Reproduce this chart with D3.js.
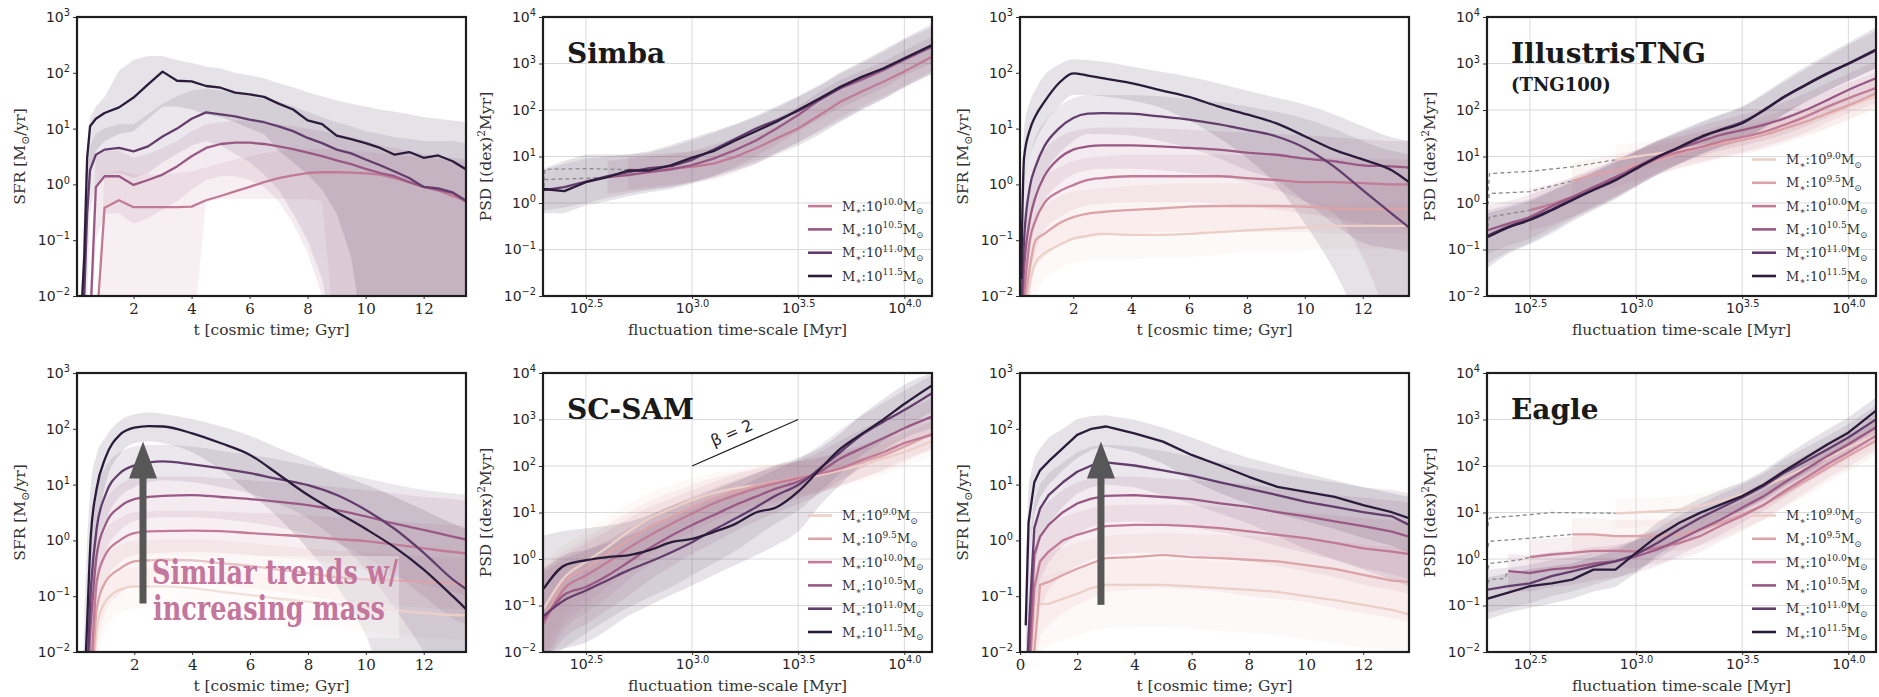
<!DOCTYPE html>
<html>
<head>
<meta charset="utf-8">
<title>SFR histories and PSDs by stellar mass</title>
<script src="https://cdn.jsdelivr.net/npm/d3@7"></script>
<style>
  body { margin: 0; background: #fff; }
</style>
</head>
<body>
<svg id="fig" width="1879" height="697"></svg>
<script>
// ---------------- data ----------------
var N = null;
var massLabels = ["9.0", "9.5", "10.0", "10.5", "11.0", "11.5"];
var massColors = ["#eccfc7", "#dca3a8", "#c27b96", "#9a5984", "#633d6c", "#2b1c3b"];

// cosmic time grids [Gyr]
var tSimba = [0.2, 0.3, 0.4, 0.5, 0.7, 1, 1.5, 2, 2.5, 3, 3.5, 4, 4.5, 5, 5.5, 6, 6.5, 7, 7.5, 8, 8.5, 9, 9.5, 10, 10.5, 11, 11.5, 12, 12.5, 13, 13.5];
var tStd = [0.2, 0.3, 0.5, 0.7, 1, 1.5, 2, 2.5, 3, 4, 5, 6, 7, 8, 9, 10, 11, 12, 13, 13.6];
// fluctuation time-scale grid [Myr]
var tauGrid = [200, 250, 316, 400, 500, 630, 800, 1000, 1260, 1600, 2000, 2500, 3160, 4000, 5000, 6300, 8000, 10000, 13500];

// Simba SFR (bins 10.0, 10.5, 11.0, 11.5)
var simbaMed = [
  [0.001, 0.001, 0.001, 0.001, 0.002, 0.38, 0.52, 0.39, 0.39, 0.39, 0.39, 0.4, 0.52, 0.62, 0.75, 0.9, 1.1, 1.3, 1.45, 1.6, 1.65, 1.65, 1.62, 1.58, 1.5, 1.3, 1.1, 0.9, 0.78, 0.62, 0.5],
  [0.001, 0.001, 0.001, 0.003, 0.9, 1.4, 1.4, 0.98, 1.2, 1.5, 2.1, 3.2, 4.5, 5.3, 5.6, 5.6, 5.3, 4.8, 4.3, 3.7, 3.2, 2.7, 2.3, 1.9, 1.6, 1.4, 1.1, 0.9, 0.8, 0.7, 0.47],
  [0.001, 0.01, 0.3, 1.8, 3.4, 4.2, 4.5, 3.9, 4.8, 7.2, 10, 15, 19.5, 18, 16.5, 14.5, 13, 11, 9, 6.8, 5.5, 4.2, 3.6, 2.8, 2.2, 1.7, 1.3, 0.9, 0.85, 0.72, 0.5],
  [0.005, 0.05, 3, 11, 15, 19, 24, 36, 62, 105, 72, 70, 58, 54, 44, 41, 37, 28, 22, 14, 12, 7.5, 6.5, 5.5, 4.5, 3.4, 3.8, 3.0, 3.3, 2.6, 1.8]
];
var simbaLo = [
  [0.001, 0.001, 0.001, 0.001, 0.001, 0.001, 0.001, 0.001, 0.001, 0.001, 0.001, 0.001, 0.5, 0.55, 0.55, 0.55, 0.55, 0.55, 0.55, 0.55, 0.5, 0.001, 0.001, 0.001, 0.001, 0.001, 0.001, 0.001, 0.001, 0.001, 0.001],
  [0.001, 0.001, 0.001, 0.001, 0.1, 0.3, 0.3, 0.2, 0.25, 0.35, 0.5, 0.8, 1.2, 1.4, 1.4, 1.2, 0.9, 0.5, 0.2, 0.06, 0.01, 0.001, 0.001, 0.001, 0.001, 0.001, 0.001, 0.001, 0.001, 0.001, 0.001],
  [0.001, 0.001, 0.01, 0.3, 1, 1.5, 1.6, 1.3, 1.6, 2.5, 3.5, 5, 6, 5, 3.5, 2.5, 1.5, 0.8, 0.3, 0.1, 0.02, 0.001, 0.001, 0.001, 0.001, 0.001, 0.001, 0.001, 0.001, 0.001, 0.001],
  [0.001, 0.005, 0.5, 2, 4, 6, 8, 9, 15, 25, 25, 22, 18, 16, 13, 10, 8, 4, 2.5, 1.5, 0.8, 0.3, 0.05, 0.001, 0.001, 0.001, 0.001, 0.001, 0.001, 0.001, 0.001]
];
var simbaHi = [
  [0.001, 0.001, 0.001, 0.001, 0.002, 1.5, 1.8, 1.5, 1.5, 1.5, 1.6, 1.7, 2, 2.4, 2.8, 3.2, 3.6, 4, 4.2, 4.3, 4.3, 4.2, 4, 3.8, 3.6, 3.4, 3.2, 3, 2.8, 2.6, 2.5],
  [0.001, 0.001, 0.001, 0.01, 3, 4, 4, 3, 3.5, 4.5, 6, 9, 12, 13, 14, 14, 13, 12, 11, 10, 9, 8, 7, 6, 5, 4.5, 4, 3.5, 3.2, 3, 2.8],
  [0.002, 0.05, 1, 5, 8, 10, 12, 12, 18, 28, 38, 48, 52, 48, 42, 38, 34, 30, 25, 20, 16, 13, 11, 9, 8, 7, 6.5, 6, 6, 6, 5.5],
  [0.01, 0.5, 5, 16, 25, 37, 110, 170, 200, 200, 170, 150, 130, 120, 100, 90, 80, 65, 55, 45, 38, 32, 28, 25, 22, 20, 18, 16, 15, 14, 13]
];

// IllustrisTNG SFR (bins 9.0 ... 11.5)
var tngMed = [
  [0.001, 0.002, 0.017, 0.04, 0.058, 0.081, 0.107, 0.12, 0.13, 0.125, 0.125, 0.13, 0.14, 0.15, 0.16, 0.17, 0.18, 0.18, 0.18, 0.18],
  [0.001, 0.005, 0.033, 0.1, 0.13, 0.2, 0.26, 0.3, 0.32, 0.35, 0.37, 0.4, 0.41, 0.41, 0.41, 0.4, 0.37, 0.36, 0.36, 0.36],
  [0.002, 0.01, 0.1, 0.23, 0.46, 0.74, 0.97, 1.2, 1.3, 1.4, 1.4, 1.4, 1.4, 1.3, 1.2, 1.1, 1.1, 1.05, 1.0, 1.0],
  [0.003, 0.03, 0.23, 0.6, 1.4, 2.9, 4.2, 4.8, 5.0, 5.0, 4.8, 4.5, 4.2, 3.7, 3.4, 2.9, 2.6, 2.2, 2.1, 2.0],
  [0.005, 0.1, 0.9, 2.1, 4.8, 10, 15.5, 18.5, 19, 18.5, 16.5, 14.5, 12, 9.5, 7.3, 4.5, 2.1, 0.79, 0.3, 0.17],
  [0.02, 3, 9.5, 17, 30, 65, 98, 89, 80, 65, 49, 37, 25, 18, 12.5, 7.3, 4.2, 2.8, 1.8, 1.1]
];
var tngLo = [
  [0.001, 0.001, 0.005, 0.01, 0.02, 0.03, 0.04, 0.043, 0.045, 0.045, 0.05, 0.05, 0.055, 0.06, 0.06, 0.065, 0.07, 0.07, 0.07, 0.07],
  [0.001, 0.001, 0.01, 0.03, 0.05, 0.08, 0.1, 0.11, 0.12, 0.13, 0.14, 0.14, 0.14, 0.14, 0.14, 0.14, 0.13, 0.13, 0.13, 0.13],
  [0.001, 0.003, 0.02, 0.06, 0.15, 0.25, 0.35, 0.42, 0.45, 0.48, 0.48, 0.48, 0.45, 0.4, 0.35, 0.3, 0.25, 0.2, 0.18, 0.15],
  [0.001, 0.005, 0.06, 0.2, 0.5, 1.0, 1.5, 1.8, 1.9, 1.9, 1.8, 1.6, 1.4, 1.1, 0.8, 0.5, 0.3, 0.05, 0.003, 0.001],
  [0.001, 0.02, 0.2, 0.6, 1.5, 3.5, 6, 8, 8, 7.5, 6, 4.5, 3, 1.8, 1.2, 0.5, 0.2, 0.09, 0.07, 0.06],
  [0.002, 0.5, 3, 6, 12, 25, 40, 40, 38, 32, 24, 14, 7, 3, 1, 0.2, 0.03, 0.003, 0.001, 0.001]
];
var tngHi = [
  [0.001, 0.01, 0.05, 0.1, 0.15, 0.22, 0.28, 0.31, 0.33, 0.35, 0.36, 0.38, 0.4, 0.42, 0.44, 0.45, 0.46, 0.46, 0.46, 0.46],
  [0.002, 0.02, 0.1, 0.3, 0.4, 0.6, 0.75, 0.8, 0.85, 0.95, 1.0, 1.05, 1.05, 1.05, 1.05, 1.05, 1.0, 1.0, 1.0, 1.0],
  [0.005, 0.05, 0.35, 0.7, 1.3, 2, 2.6, 3, 3.2, 3.4, 3.4, 3.4, 3.4, 3.3, 3.2, 3.1, 3.0, 2.9, 2.8, 2.8],
  [0.01, 0.15, 1, 2, 4, 7, 9, 10, 10.5, 10.5, 10, 9.5, 9, 8.5, 8, 7.5, 7, 6.5, 6, 6],
  [0.02, 0.5, 3, 7, 13, 25, 35, 40, 40, 40, 38, 34, 30, 25, 20, 15, 10, 6, 4, 3.5],
  [0.1, 10, 30, 50, 90, 140, 175, 170, 160, 130, 105, 85, 65, 48, 36, 27, 18, 11, 7, 6]
];

// SC-SAM SFR (bins 9.0 ... 11.5)
var samMed = [
  [0.001, 0.001, 0.001, 0.026, 0.08, 0.13, 0.15, 0.15, 0.15, 0.14, 0.12, 0.105, 0.09, 0.08, 0.072, 0.066, 0.056, 0.05, 0.046, 0.045],
  [0.001, 0.001, 0.002, 0.06, 0.18, 0.31, 0.42, 0.44, 0.45, 0.44, 0.39, 0.35, 0.3, 0.26, 0.22, 0.2, 0.19, 0.18, 0.17, 0.16],
  [0.001, 0.001, 0.005, 0.18, 0.55, 1.0, 1.35, 1.45, 1.47, 1.5, 1.47, 1.35, 1.26, 1.17, 1.05, 0.97, 0.84, 0.72, 0.62, 0.58],
  [0.001, 0.001, 0.034, 0.55, 1.9, 4.0, 5.5, 6.0, 6.3, 6.5, 6.0, 5.5, 4.9, 4.3, 3.5, 2.7, 2.0, 1.54, 1.17, 1.0],
  [0.001, 0.001, 0.14, 1.66, 6.5, 16, 22, 25, 26, 23, 19.6, 16, 12.5, 9.8, 6.5, 3.5, 1.6, 0.6, 0.2, 0.12],
  [0.001, 0.005, 1.26, 8.5, 30, 78, 105, 112, 110, 83, 55, 34, 15, 6.5, 3.2, 1.6, 0.75, 0.3, 0.1, 0.05]
];
var samLo = [
  [0.001, 0.001, 0.001, 0.005, 0.025, 0.05, 0.06, 0.063, 0.065, 0.06, 0.05, 0.04, 0.035, 0.03, 0.027, 0.024, 0.02, 0.018, 0.017, 0.016],
  [0.001, 0.001, 0.001, 0.01, 0.05, 0.11, 0.16, 0.17, 0.18, 0.18, 0.16, 0.14, 0.12, 0.1, 0.085, 0.075, 0.068, 0.062, 0.058, 0.055],
  [0.001, 0.001, 0.001, 0.04, 0.18, 0.4, 0.55, 0.58, 0.6, 0.62, 0.6, 0.55, 0.5, 0.45, 0.38, 0.3, 0.22, 0.16, 0.12, 0.1],
  [0.001, 0.001, 0.002, 0.1, 0.6, 1.5, 2.2, 2.5, 2.6, 2.6, 2.4, 2.1, 1.7, 1.3, 0.9, 0.5, 0.25, 0.1, 0.04, 0.03],
  [0.001, 0.001, 0.01, 0.3, 2, 6, 9, 11, 12, 11, 9, 7, 4.5, 2.5, 1.0, 0.3, 0.06, 0.01, 0.001, 0.001],
  [0.001, 0.001, 0.05, 1, 10, 35, 55, 60, 55, 38, 18, 7, 2.5, 0.7, 0.15, 0.02, 0.001, 0.001, 0.001, 0.001]
];
var samHi = [
  [0.001, 0.001, 0.005, 0.07, 0.18, 0.28, 0.33, 0.34, 0.34, 0.33, 0.3, 0.27, 0.24, 0.22, 0.2, 0.18, 0.17, 0.16, 0.15, 0.15],
  [0.001, 0.001, 0.02, 0.2, 0.5, 0.8, 1.0, 1.03, 1.05, 1.05, 1.0, 0.9, 0.8, 0.72, 0.65, 0.6, 0.56, 0.52, 0.5, 0.5],
  [0.001, 0.002, 0.05, 0.6, 1.5, 2.5, 3.2, 3.3, 3.4, 3.4, 3.3, 3.1, 3.0, 2.8, 2.6, 2.4, 2.2, 2.0, 1.9, 1.8],
  [0.001, 0.005, 0.2, 2, 5, 10, 13, 13.5, 14, 14, 13, 12, 11, 10, 9, 8, 7, 6, 5.5, 5],
  [0.001, 0.01, 1, 8, 20, 38, 48, 52, 52, 48, 40, 34, 28, 22, 17, 13, 10, 8, 7, 6.5],
  [0.001, 0.1, 10, 35, 70, 140, 180, 195, 185, 150, 110, 75, 45, 28, 16, 10, 6, 3.5, 2, 1.5]
];

// Eagle SFR (bins 9.0 ... 11.5)
var eagleMed = [
  [0.001, 0.001, 0.07, 0.072, 0.073, 0.09, 0.11, 0.14, 0.16, 0.16, 0.16, 0.15, 0.14, 0.13, 0.12, 0.1, 0.085, 0.07, 0.057, 0.047],
  [0.001, 0.001, 0.01, 0.16, 0.18, 0.24, 0.31, 0.39, 0.48, 0.5, 0.55, 0.5, 0.48, 0.45, 0.42, 0.36, 0.31, 0.24, 0.19, 0.18],
  [0.001, 0.002, 0.14, 0.42, 0.63, 1.0, 1.26, 1.5, 1.8, 1.9, 1.9, 1.8, 1.66, 1.45, 1.26, 1.1, 0.9, 0.72, 0.63, 0.57],
  [0.001, 0.005, 0.55, 1.17, 1.9, 3.2, 4.6, 5.6, 6.3, 6.5, 6.0, 5.5, 4.6, 4.0, 3.2, 2.7, 2.2, 1.8, 1.44, 1.17],
  [0.001, 0.02, 1.66, 3.7, 6.5, 11, 17, 22, 25, 22, 18, 14.5, 11, 8.5, 6.5, 4.9, 4.0, 3.2, 2.7, 1.9],
  [0.03, 2.1, 11, 18, 26, 45, 78, 100, 110, 83, 59, 34, 22, 13.8, 9.1, 7.4, 6.0, 4.3, 3.2, 2.5]
];
var eagleLo = [
  [0.001, 0.001, 0.005, 0.01, 0.013, 0.016, 0.02, 0.024, 0.027, 0.028, 0.028, 0.026, 0.024, 0.022, 0.02, 0.017, 0.014, 0.012, 0.01, 0.009],
  [0.001, 0.001, 0.002, 0.02, 0.03, 0.05, 0.07, 0.09, 0.12, 0.13, 0.14, 0.13, 0.12, 0.1, 0.09, 0.08, 0.06, 0.05, 0.04, 0.035],
  [0.001, 0.001, 0.01, 0.06, 0.13, 0.25, 0.35, 0.45, 0.55, 0.6, 0.6, 0.55, 0.5, 0.42, 0.35, 0.28, 0.22, 0.16, 0.13, 0.11],
  [0.001, 0.001, 0.05, 0.2, 0.4, 0.8, 1.3, 1.8, 2.1, 2.2, 2.0, 1.7, 1.4, 1.1, 0.8, 0.6, 0.45, 0.32, 0.25, 0.2],
  [0.001, 0.002, 0.3, 1, 2, 4, 7, 9, 10, 9, 6.5, 4.5, 3, 2, 1.2, 0.7, 0.45, 0.3, 0.2, 0.15],
  [0.001, 0.5, 3, 6, 10, 18, 30, 42, 48, 38, 24, 12, 7, 4.5, 3, 2.2, 1.6, 1.1, 0.8, 0.6]
];
var eagleHi = [
  [0.001, 0.002, 0.2, 0.22, 0.24, 0.28, 0.33, 0.4, 0.45, 0.46, 0.46, 0.45, 0.42, 0.4, 0.37, 0.33, 0.3, 0.26, 0.22, 0.2],
  [0.001, 0.005, 0.3, 0.5, 0.6, 0.75, 0.9, 1.05, 1.2, 1.3, 1.35, 1.3, 1.25, 1.2, 1.15, 1.05, 0.95, 0.85, 0.75, 0.7],
  [0.001, 0.02, 0.6, 1.2, 1.8, 2.6, 3.2, 3.8, 4.2, 4.4, 4.4, 4.2, 4.0, 3.7, 3.4, 3.1, 2.8, 2.5, 2.3, 2.2],
  [0.002, 0.1, 2, 3.5, 5, 8, 11, 13, 14, 14, 13, 12, 11, 10, 8.5, 7.5, 6.5, 5.8, 5.2, 4.8],
  [0.005, 0.5, 5, 10, 16, 25, 38, 48, 52, 48, 40, 32, 25, 20, 16, 13, 11, 9, 8, 7],
  [0.5, 10, 30, 45, 70, 100, 150, 170, 175, 145, 105, 70, 45, 30, 22, 16, 12, 9, 7, 6]
];

// Simba PSD (bins 10.0, 10.5, 11.0, 11.5)
var simbaPsd = [
  [N, N, N, N, 5.2, 5.0, 5.5, 6.0, 7.0, 9.8, 15, 24.5, 40, 78, 150, 250, 410, 670, 1400],
  [N, N, N, 3.6, 4.0, 4.6, 5.3, 6.5, 9.0, 13.8, 22, 40, 78, 165, 295, 450, 730, 1200, 2300],
  [1.9, 2.2, 2.9, 3.8, 4.6, 5.6, 6.2, 8.5, 14, 24, 40, 60, 95, 170, 300, 500, 780, 1250, 2400],
  [2.0, 1.8, 2.8, 3.6, 5.0, 5.0, 6.5, 9.5, 13, 22, 35, 56, 100, 178, 316, 520, 790, 1300, 2500]
];
var simbaPsdLo = [
  [N, N, N, N, 2.0, 2.2, 2.5, 2.8, 3.2, 4.5, 7, 12, 20, 38, 70, 120, 200, 330, 700],
  [N, N, N, 1.6, 1.8, 2.0, 2.3, 2.8, 3.8, 6, 10, 18, 35, 65, 110, 180, 300, 550, 1000],
  [0.7, 0.8, 1.0, 1.3, 1.6, 1.9, 2.2, 2.8, 3.8, 5.5, 8, 12, 20, 35, 60, 105, 180, 320, 620],
  [0.6, 0.6, 0.9, 1.1, 1.4, 1.7, 2.0, 2.6, 3.5, 5, 7, 11, 17, 30, 55, 100, 170, 300, 600]
];
var simbaPsdHi = [
  [N, N, N, N, 10, 11, 12, 13, 15, 20, 28, 45, 75, 140, 270, 450, 700, 1100, 2300],
  [N, N, N, 8, 9, 10, 11, 13, 18, 25, 38, 65, 120, 250, 450, 700, 1100, 1900, 3800],
  [5, 7, 9, 10, 11, 12, 16, 22, 32, 48, 70, 110, 190, 330, 600, 1000, 1800, 3200, 6000],
  [5.5, 8, 11, 11, 11, 13, 18, 25, 35, 50, 75, 120, 200, 350, 650, 1100, 2000, 3500, 7000]
];
var simbaDashTau = [[200, 203, 320, 500], [200, 203, 320, 400], N, N];
var simbaDashVal = [[3.0, 5.3, 5.5, 5.2], [2.2, 3.2, 3.4, 3.6], N, N];

// IllustrisTNG PSD (bins 9.0 ... 11.5)
var tngPsd = [
  [N, N, N, N, N, N, 8.5, 10, 11.5, 13.8, 16.6, 20, 24.5, 31.6, 40, 56, 78, 118, 195],
  [N, N, N, N, 3.0, 4.0, 5.0, 6.5, 8.3, 11.5, 15, 18.5, 22.5, 29, 40, 56, 85, 126, 230],
  [N, N, 0.7, 0.95, 1.35, 2.0, 3.6, 5.5, 9, 12.6, 16, 21, 26, 34, 48, 72, 118, 178, 295],
  [0.26, 0.36, 0.5, 0.85, 1.35, 2.2, 3.6, 6.0, 10, 15, 21, 29, 37, 48, 66, 100, 165, 270, 480],
  [0.2, 0.31, 0.45, 0.72, 1.2, 1.95, 3.2, 5.4, 9.5, 15.5, 25, 38, 55, 98, 190, 340, 600, 980, 1900],
  [0.185, 0.3, 0.43, 0.7, 1.15, 1.9, 3.1, 5.5, 9.8, 16, 26, 37, 52, 100, 195, 350, 620, 1000, 2000]
];
var tngPsdLo = [
  [N, N, N, N, N, N, 4, 5, 5.8, 7, 8.5, 10.5, 13, 17, 22, 30, 42, 65, 110],
  [N, N, N, N, 1.3, 1.8, 2.2, 3, 4, 5.5, 7, 9, 11, 14, 19, 27, 40, 60, 110],
  [N, N, 0.25, 0.35, 0.5, 0.8, 1.4, 2.3, 4, 5.8, 7.5, 9.5, 12, 16, 22, 33, 55, 85, 140],
  [0.08, 0.12, 0.17, 0.3, 0.5, 0.85, 1.4, 2.5, 4.5, 7, 10, 13.5, 17, 22, 30, 45, 70, 110, 200],
  [0.05, 0.09, 0.14, 0.25, 0.45, 0.75, 1.3, 2.3, 4.2, 7, 11, 16, 23, 42, 82, 150, 260, 420, 780],
  [0.04, 0.08, 0.13, 0.22, 0.4, 0.7, 1.2, 2.2, 4, 7, 11, 16, 22, 40, 80, 150, 260, 420, 800]
];
var tngPsdHi = [
  [N, N, N, N, N, N, 18, 20, 23, 27, 32, 38, 45, 55, 70, 95, 135, 200, 330],
  [N, N, N, N, 7, 9, 11, 14, 17, 22, 28, 34, 42, 55, 75, 105, 160, 240, 430],
  [N, N, 2.0, 2.6, 3.6, 5, 8.5, 13, 20, 27, 35, 45, 56, 72, 100, 150, 250, 380, 650],
  [0.9, 1.1, 1.5, 2.3, 3.5, 5.5, 8.5, 14, 22, 32, 45, 60, 80, 105, 150, 230, 380, 600, 1100],
  [0.7, 0.9, 1.2, 1.9, 3, 4.8, 8, 13, 21, 34, 52, 78, 115, 210, 400, 750, 1400, 2500, 5000],
  [0.6, 0.8, 1.1, 1.8, 2.8, 4.5, 7.5, 13, 22, 36, 55, 80, 120, 230, 450, 850, 1600, 2800, 6000]
];
var tngDashTau = [[200, 204, 316, 500, 800], [200, 204, 316, 500], [200, 204, 316], N, N, N];
var tngDashVal = [[1.3, 4.3, 4.8, 6.0, 8.5], [0.9, 1.6, 1.75, 3.0], [0.3, 0.5, 0.7], N, N, N];

// SC-SAM PSD (bins 9.0 ... 11.5)
var samPsd = [
  [0.085, 0.4, 0.87, 1.8, 3.8, 7.4, 12, 18.5, 26, 33, 39, 46, 54, 64, 81, 105, 145, 200, 340],
  [0.05, 0.32, 0.62, 1.3, 2.5, 4.9, 8.0, 13, 20, 28, 38, 46, 56, 69, 89, 124, 172, 260, 500],
  [0.04, 0.23, 0.44, 0.85, 1.7, 3.2, 5.7, 9.5, 15.6, 23.5, 33, 43, 54, 69, 89, 135, 200, 310, 470],
  [0.05, 0.17, 0.25, 0.44, 0.85, 1.7, 3.2, 5.4, 8.7, 14.5, 22, 33, 46, 75, 145, 240, 400, 650, 1150],
  [0.06, 0.13, 0.21, 0.35, 0.57, 0.87, 1.4, 2.3, 4.2, 7.4, 13, 23.5, 39, 89, 200, 470, 910, 1600, 3700],
  [0.23, 0.72, 0.94, 1.1, 1.2, 1.55, 2.3, 2.7, 3.8, 5.7, 10, 13, 28, 85, 235, 490, 1020, 2150, 5400]
];
var samPsdLo = [
  [0.008, 0.06, 0.16, 0.4, 0.9, 2, 3.5, 6, 9, 12, 15, 18, 22, 27, 35, 47, 65, 95, 170],
  [0.006, 0.04, 0.1, 0.25, 0.55, 1.2, 2.2, 3.8, 6.5, 10, 14, 18, 23, 29, 38, 54, 78, 120, 250],
  [0.005, 0.03, 0.07, 0.15, 0.35, 0.75, 1.4, 2.6, 4.5, 7.5, 11, 15, 20, 27, 37, 55, 85, 140, 220],
  [0.005, 0.02, 0.04, 0.08, 0.16, 0.35, 0.7, 1.3, 2.2, 4, 6.5, 10, 15, 25, 50, 90, 150, 250, 450],
  [0.005, 0.012, 0.025, 0.05, 0.09, 0.15, 0.25, 0.45, 0.8, 1.5, 3, 6, 11, 28, 70, 170, 350, 650, 1500],
  [0.01, 0.012, 0.016, 0.03, 0.06, 0.1, 0.17, 0.27, 0.45, 0.74, 1.2, 2.0, 3.9, 14, 40, 105, 220, 400, 650]
];
var samPsdHi = [
  [0.9, 2, 4, 8, 15, 27, 40, 55, 70, 85, 100, 115, 130, 150, 180, 230, 310, 420, 700],
  [0.7, 1.5, 2.8, 5.5, 10, 18, 28, 40, 55, 72, 90, 105, 125, 150, 190, 260, 360, 520, 900],
  [0.6, 1.2, 2.2, 4, 7.5, 13, 20, 30, 45, 65, 85, 105, 125, 155, 200, 290, 420, 620, 950],
  [0.5, 1, 1.5, 2.5, 4.5, 8, 14, 22, 33, 50, 70, 95, 130, 200, 350, 600, 1000, 1600, 2800],
  [0.6, 1.2, 1.6, 2.2, 3.2, 4.8, 7.5, 12, 20, 32, 52, 85, 140, 280, 600, 1200, 2300, 4200, 9000],
  [3.2, 4, 4.6, 5.2, 6.3, 9, 14, 20, 30, 46, 70, 105, 150, 240, 500, 1260, 2800, 5600, 10000]
];
// beta = 2 reference slope
var betaTau = [1000, 3162];
var betaVal = [100, 1000];

// Eagle PSD (bins 9.0 ... 11.5)
var eaglePsd = [
  [N, N, N, N, N, N, 9.6, 10, 10.7, 11.5, 13.8, 17.5, 24.5, 37, 56, 92, 150, 250, 480],
  [N, N, N, N, 3.4, 3.4, 3.1, 3.1, 3.2, 3.4, 4.3, 6.0, 9.1, 14.6, 26, 48, 92, 165, 350],
  [N, N, 1.1, 1.25, 1.35, 1.5, 1.5, 1.45, 1.75, 2.2, 3.1, 5.2, 8.4, 14.6, 29, 56, 110, 195, 450],
  [N, 0.55, 0.5, 0.6, 0.65, 0.8, 0.9, 1.13, 1.6, 2.6, 4.3, 7.0, 12.6, 22.5, 44, 85, 165, 295, 680],
  [0.22, 0.26, 0.3, 0.43, 0.54, 0.7, 0.89, 1.25, 2.2, 4.3, 7.6, 12.5, 21, 37, 72, 126, 230, 410, 1000],
  [0.14, 0.19, 0.26, 0.3, 0.36, 0.59, 0.59, 1.35, 3.1, 6.0, 9.8, 14.8, 22.5, 40, 78, 150, 295, 520, 1550]
];
var eaglePsdLo = [
  [N, N, N, N, N, N, 4.5, 4.8, 5, 5.5, 6.5, 8.5, 12, 18, 28, 45, 75, 125, 250],
  [N, N, N, N, 1.5, 1.5, 1.4, 1.4, 1.4, 1.5, 1.9, 2.8, 4.5, 7, 12.5, 23, 45, 80, 170],
  [N, N, 0.5, 0.55, 0.6, 0.65, 0.65, 0.65, 0.8, 1.0, 1.4, 2.4, 4, 7, 14, 27, 55, 95, 220],
  [N, 0.2, 0.2, 0.25, 0.28, 0.35, 0.4, 0.5, 0.7, 1.2, 2, 3.3, 6, 11, 21, 42, 82, 150, 340],
  [0.07, 0.09, 0.11, 0.16, 0.2, 0.28, 0.38, 0.55, 1.0, 2.0, 3.6, 6, 10.5, 18, 35, 64, 115, 210, 500],
  [0.05, 0.07, 0.09, 0.11, 0.14, 0.2, 0.25, 0.5, 1.2, 2.5, 4.5, 7, 11, 20, 38, 70, 140, 250, 700]
];
var eaglePsdHi = [
  [N, N, N, N, N, N, 20, 20, 21, 22, 26, 32, 45, 70, 110, 180, 300, 500, 900],
  [N, N, N, N, 7.5, 7.5, 7, 7, 7, 7.5, 9, 12, 18, 30, 55, 100, 190, 340, 700],
  [N, N, 2.6, 2.8, 3, 3.3, 3.3, 3.4, 4, 5, 7, 11, 17, 30, 60, 115, 220, 400, 900],
  [N, 1.3, 1.2, 1.4, 1.5, 1.8, 2, 2.5, 3.5, 5.5, 9, 15, 26, 45, 90, 170, 330, 600, 1400],
  [0.6, 0.65, 0.75, 0.95, 1.1, 1.4, 1.8, 2.6, 4.5, 8.5, 15, 25, 40, 70, 140, 250, 450, 800, 2000],
  [0.4, 0.5, 0.6, 0.7, 0.8, 1.1, 1.5, 2.6, 6, 12, 20, 30, 45, 80, 160, 320, 620, 1100, 3000]
];
var eagleDashTau = [[200, 204, 316, 400, 800], [200, 204, 316, 500], [200, 204, 280, 316], [200, 204, 240, 250], N, N];
var eagleDashVal = [[5, 7.6, 9, 10, 9.6], [1.8, 2.4, 2.8, 3.4], [0.6, 0.8, 0.95, 1.1], [0.3, 0.36, 0.38, 0.55], N, N];

// axis ticks
var sfrTicks = [2, 4, 6, 8, 10, 12];
var sfrTicksZero = [0, 2, 4, 6, 8, 10, 12];
var sfrDecades = [1e-2, 1e-1, 1, 10, 100, 1000];
var psdDecades = [1e-2, 1e-1, 1, 10, 100, 1000, 10000];
var psdTicks = [Math.pow(10, 2.5), 1000, Math.pow(10, 3.5), 10000];

// ---------------- layout ----------------
var SERIF = "'DejaVu Serif', 'Liberation Serif', serif";
var SANS = "'DejaVu Sans', sans-serif";
var INK = "#262626";
var colLeft = [77, 543, 1020, 1487], rowTop = [17, 373];
var pw = 389, ph = 279;
var psdDomain = [198.5, 13500];
var bandOpacity = 0.12;

var panels = [
  { kind: "sfr", col: 0, row: 0, grid: tSimba, med: simbaMed, lo: simbaLo, hi: simbaHi, bins: [2, 3, 4, 5], xdom: [0.05, 13.46], ticks: sfrTicks, curve: d3.curveLinear },
  { kind: "psd", col: 1, row: 0, med: simbaPsd, lo: simbaPsdLo, hi: simbaPsdHi, bins: [2, 3, 4, 5], dashTau: simbaDashTau, dashVal: simbaDashVal, title: "Simba", curve: d3.curveLinear },
  { kind: "sfr", col: 2, row: 0, grid: tStd, med: tngMed, lo: tngLo, hi: tngHi, bins: [0, 1, 2, 3, 4, 5], xdom: [0.16, 13.6], ticks: sfrTicks, curve: d3.curveMonotoneX },
  { kind: "psd", col: 3, row: 0, med: tngPsd, lo: tngPsdLo, hi: tngPsdHi, bins: [0, 1, 2, 3, 4, 5], dashTau: tngDashTau, dashVal: tngDashVal, title: "IllustrisTNG", sub: "(TNG100)", curve: d3.curveMonotoneX },
  { kind: "sfr", col: 0, row: 1, grid: tStd, med: samMed, lo: samLo, hi: samHi, bins: [0, 1, 2, 3, 4, 5], xdom: [0.02, 13.46], ticks: sfrTicks, curve: d3.curveMonotoneX, arrow: { t: 2.3, from: 0.074, to: 59 }, note: true },
  { kind: "psd", col: 1, row: 1, med: samPsd, lo: samPsdLo, hi: samPsdHi, bins: [0, 1, 2, 3, 4, 5], title: "SC-SAM", beta: true, curve: d3.curveMonotoneX },
  { kind: "sfr", col: 2, row: 1, grid: tStd, med: eagleMed, lo: eagleLo, hi: eagleHi, bins: [0, 1, 2, 3, 4, 5], xdom: [0, 13.6], ticks: sfrTicksZero, curve: d3.curveLinear, arrow: { t: 2.83, from: 0.07, to: 59 } },
  { kind: "psd", col: 3, row: 1, med: eaglePsd, lo: eaglePsdLo, hi: eaglePsdHi, bins: [0, 1, 2, 3, 4, 5], dashTau: eagleDashTau, dashVal: eagleDashVal, title: "Eagle", curve: d3.curveLinear }
];

var svg = d3.select("#fig");

// text with super/subscripts: parts = [[text, ""|"sup"|"sub"], ...]
function rich(sel, parts, size) {
  var cur = 0;
  parts.forEach(function (p) {
    var off = p[1] === "sup" ? -0.42 * size : p[1] === "sub" ? 0.28 * size : 0;
    var ts = sel.append("tspan").text(p[0]);
    if (off !== cur) ts.attr("dy", off - cur);
    if (p[1]) ts.attr("font-size", size * 0.7);
    cur = off;
  });
}
function expStr(v) {
  var e = Math.round(Math.log10(v));
  return e < 0 ? "\u2212" + (-e) : String(e);
}
function ok(v) { return v !== null && v !== undefined; }

panels.forEach(function (p, pi) {
  var g = svg.append("g").attr("transform", "translate(" + colLeft[p.col] + "," + rowTop[p.row] + ")");
  var isSfr = p.kind === "sfr";
  var x = isSfr ? d3.scaleLinear().domain(p.xdom).range([0, pw])
                : d3.scaleLog().domain(psdDomain).range([0, pw]);
  var y = d3.scaleLog().domain(isSfr ? [1e-2, 1e3] : [1e-2, 1e4]).range([ph, 0]);
  var grid = isSfr ? p.grid : tauGrid;

  g.append("clipPath").attr("id", "clip" + pi)
    .append("rect").attr("width", pw).attr("height", ph);

  // grid lines (PSD panels only)
  if (!isSfr) {
    var gg = g.append("g").attr("stroke", "#dadada").attr("stroke-width", 1);
    gg.selectAll(".gx").data(psdTicks).enter().append("line")
      .attr("x1", function (d) { return x(d); }).attr("x2", function (d) { return x(d); })
      .attr("y1", 0).attr("y2", ph);
    gg.selectAll(".gy").data(psdDecades).enter().append("line")
      .attr("y1", function (d) { return y(d); }).attr("y2", function (d) { return y(d); })
      .attr("x1", 0).attr("x2", pw);
  }

  var plot = g.append("g").attr("clip-path", "url(#clip" + pi + ")");

  // percentile bands
  p.bins.forEach(function (b, k) {
    var pts = grid.map(function (t, j) { return { x: t, lo: p.lo[k][j], hi: p.hi[k][j] }; });
    var area = d3.area()
      .defined(function (d) { return ok(d.lo) && ok(d.hi); })
      .curve(p.curve)
      .x(function (d) { return x(d.x); })
      .y0(function (d) { return y(d.lo); })
      .y1(function (d) { return y(d.hi); });
    plot.append("path").datum(pts)
      .attr("d", area)
      .attr("fill", massColors[b])
      .attr("fill-opacity", bandOpacity);
  });

  // dashed extensions below resolution
  if (p.dashTau) {
    p.bins.forEach(function (b, k) {
      if (!p.dashTau[k]) return;
      var pts = p.dashTau[k].map(function (t, j) { return [t, p.dashVal[k][j]]; });
      plot.append("path").datum(pts)
        .attr("d", d3.line().x(function (d) { return x(d[0]); }).y(function (d) { return y(d[1]); }))
        .attr("fill", "none").attr("stroke", "#8a8a8a")
        .attr("stroke-width", 1.3).attr("stroke-dasharray", "4,3");
    });
  }

  // median lines
  p.bins.forEach(function (b, k) {
    var pts = grid.map(function (t, j) { return [t, p.med[k][j]]; });
    var line = d3.line()
      .defined(function (d) { return ok(d[1]); })
      .curve(p.curve)
      .x(function (d) { return x(d[0]); })
      .y(function (d) { return y(d[1]); });
    plot.append("path").datum(pts)
      .attr("d", line)
      .attr("fill", "none")
      .attr("stroke", massColors[b])
      .attr("stroke-width", 2.3)
      .attr("stroke-linejoin", "round");
  });

  // beta = 2 slope guide
  if (p.beta) {
    var bx0 = x(betaTau[0]), by0 = y(betaVal[0]), bx1 = x(betaTau[1]), by1 = y(betaVal[1]);
    g.append("line").attr("x1", bx0).attr("y1", by0).attr("x2", bx1).attr("y2", by1)
      .attr("stroke", "#222").attr("stroke-width", 1.3);
    var ang = Math.atan2(by1 - by0, bx1 - bx0) * 180 / Math.PI;
    var mx = x(Math.sqrt(betaTau[0] * betaTau[1]) * 0.92), my = y(Math.sqrt(betaVal[0] * betaVal[1]) * 0.84);
    g.append("text")
      .attr("transform", "translate(" + mx + "," + my + ") rotate(" + ang + ")")
      .attr("dy", -9).attr("text-anchor", "middle")
      .attr("font-family", SANS).attr("font-size", 16).attr("fill", INK)
      .text("\u03b2 = 2");
  }

  // y axis
  var yAxis = g.append("g").call(d3.axisLeft(y).tickValues(isSfr ? sfrDecades : psdDecades)
    .tickSize(4).tickPadding(3).tickFormat(""));
  yAxis.select(".domain").remove();
  yAxis.selectAll(".tick line").attr("stroke", "#333");
  yAxis.selectAll(".tick text").attr("font-family", SANS).attr("font-size", 14).attr("fill", INK)
    .each(function (d) { rich(d3.select(this), [["10", ""], [expStr(d), "sup"]], 14); });

  // x axis
  var xAx = isSfr
    ? d3.axisBottom(x).tickValues(p.ticks).tickSize(3).tickPadding(4).tickFormat(d3.format("d"))
    : d3.axisBottom(x).tickValues(psdTicks).tickSize(3).tickPadding(4).tickFormat("");
  var xAxis = g.append("g").attr("transform", "translate(0," + ph + ")").call(xAx);
  xAxis.select(".domain").remove();
  xAxis.selectAll(".tick line").attr("stroke", "#333");
  xAxis.selectAll(".tick text").attr("fill", INK)
    .attr("font-family", isSfr ? SERIF : SANS).attr("font-size", isSfr ? 15 : 14);
  if (!isSfr) {
    xAxis.selectAll(".tick text").each(function (d) {
      rich(d3.select(this), [["10", ""], [Math.log10(d).toFixed(1), "sup"]], 14);
    });
  }

  // frame
  g.append("rect").attr("width", pw).attr("height", ph)
    .attr("fill", "none").attr("stroke", "#1e1e1e").attr("stroke-width", 2.2);

  // axis labels
  g.append("text").attr("x", pw / 2).attr("y", ph + 39).attr("text-anchor", "middle")
    .attr("font-family", SERIF).attr("font-size", 15.5).attr("fill", "#333")
    .text(isSfr ? "t [cosmic time; Gyr]" : "fluctuation time-scale [Myr]");
  var yl = g.append("text").attr("transform", "translate(-52," + (ph / 2) + ") rotate(-90)")
    .attr("text-anchor", "middle").attr("font-family", SERIF).attr("font-size", 15.5).attr("fill", "#333");
  if (isSfr) rich(yl, [["SFR [M", ""], ["\u2299", "sub"], ["/yr]", ""]], 15.5);
  else rich(yl, [["PSD [(dex)", ""], ["2", "sup"], ["Myr]", ""]], 15.5);

  // titles
  if (p.title) {
    g.append("text").attr("x", 24).attr("y", 46)
      .attr("font-family", SERIF).attr("font-weight", "bold").attr("font-size", 28).attr("fill", "#1a1a1a")
      .text(p.title);
  }
  if (p.sub) {
    g.append("text").attr("x", 24).attr("y", 74)
      .attr("font-family", SERIF).attr("font-weight", "bold").attr("font-size", 18).attr("fill", "#1a1a1a")
      .text(p.sub);
  }

  // legend
  if (!isSfr) {
    var n = p.bins.length;
    var lg = g.append("g");
    p.bins.forEach(function (b, k) {
      var ly = ph - 20 - (n - 1 - k) * 23.3;
      lg.append("line").attr("x1", pw - 124).attr("x2", pw - 100).attr("y1", ly).attr("y2", ly)
        .attr("stroke", massColors[b]).attr("stroke-width", 2.6);
      var lt = lg.append("text").attr("x", pw - 90).attr("y", ly + 4.5)
        .attr("font-family", SERIF).attr("font-size", 13).attr("fill", "#333");
      rich(lt, [["M", ""], ["\u2217", "sub"], [":10", ""], [massLabels[b], "sup"], ["M", ""], ["\u2299", "sub"]], 13);
    });
  }

  // arrow annotation
  if (p.arrow) {
    var ax = x(p.arrow.t), yTail = y(p.arrow.from), yTip = y(p.arrow.to);
    g.append("rect").attr("x", ax - 3.5).attr("y", yTip + 30).attr("width", 7).attr("height", yTail - yTip - 30)
      .attr("fill", "#575757");
    g.append("path").attr("d", "M" + (ax - 14) + "," + (yTip + 37) + "L" + ax + "," + yTip + "L" + (ax + 14) + "," + (yTip + 37) + "Z")
      .attr("fill", "#575757");
  }
  if (p.note) {
    g.append("rect").attr("x", 72).attr("y", 183).attr("width", 250).attr("height", 82)
      .attr("fill", "#fff").attr("fill-opacity", 0.35);
    var nt = g.append("g").attr("font-family", SERIF).attr("font-weight", "bold")
      .attr("font-size", 33).attr("fill", "#c5769d");
    nt.append("text").attr("x", 75).attr("y", 211).attr("textLength", 246)
      .attr("lengthAdjust", "spacingAndGlyphs").text("Similar trends w/");
    nt.append("text").attr("x", 76).attr("y", 247).attr("textLength", 232)
      .attr("lengthAdjust", "spacingAndGlyphs").text("increasing mass");
  }
});
</script>
</body>
</html>
